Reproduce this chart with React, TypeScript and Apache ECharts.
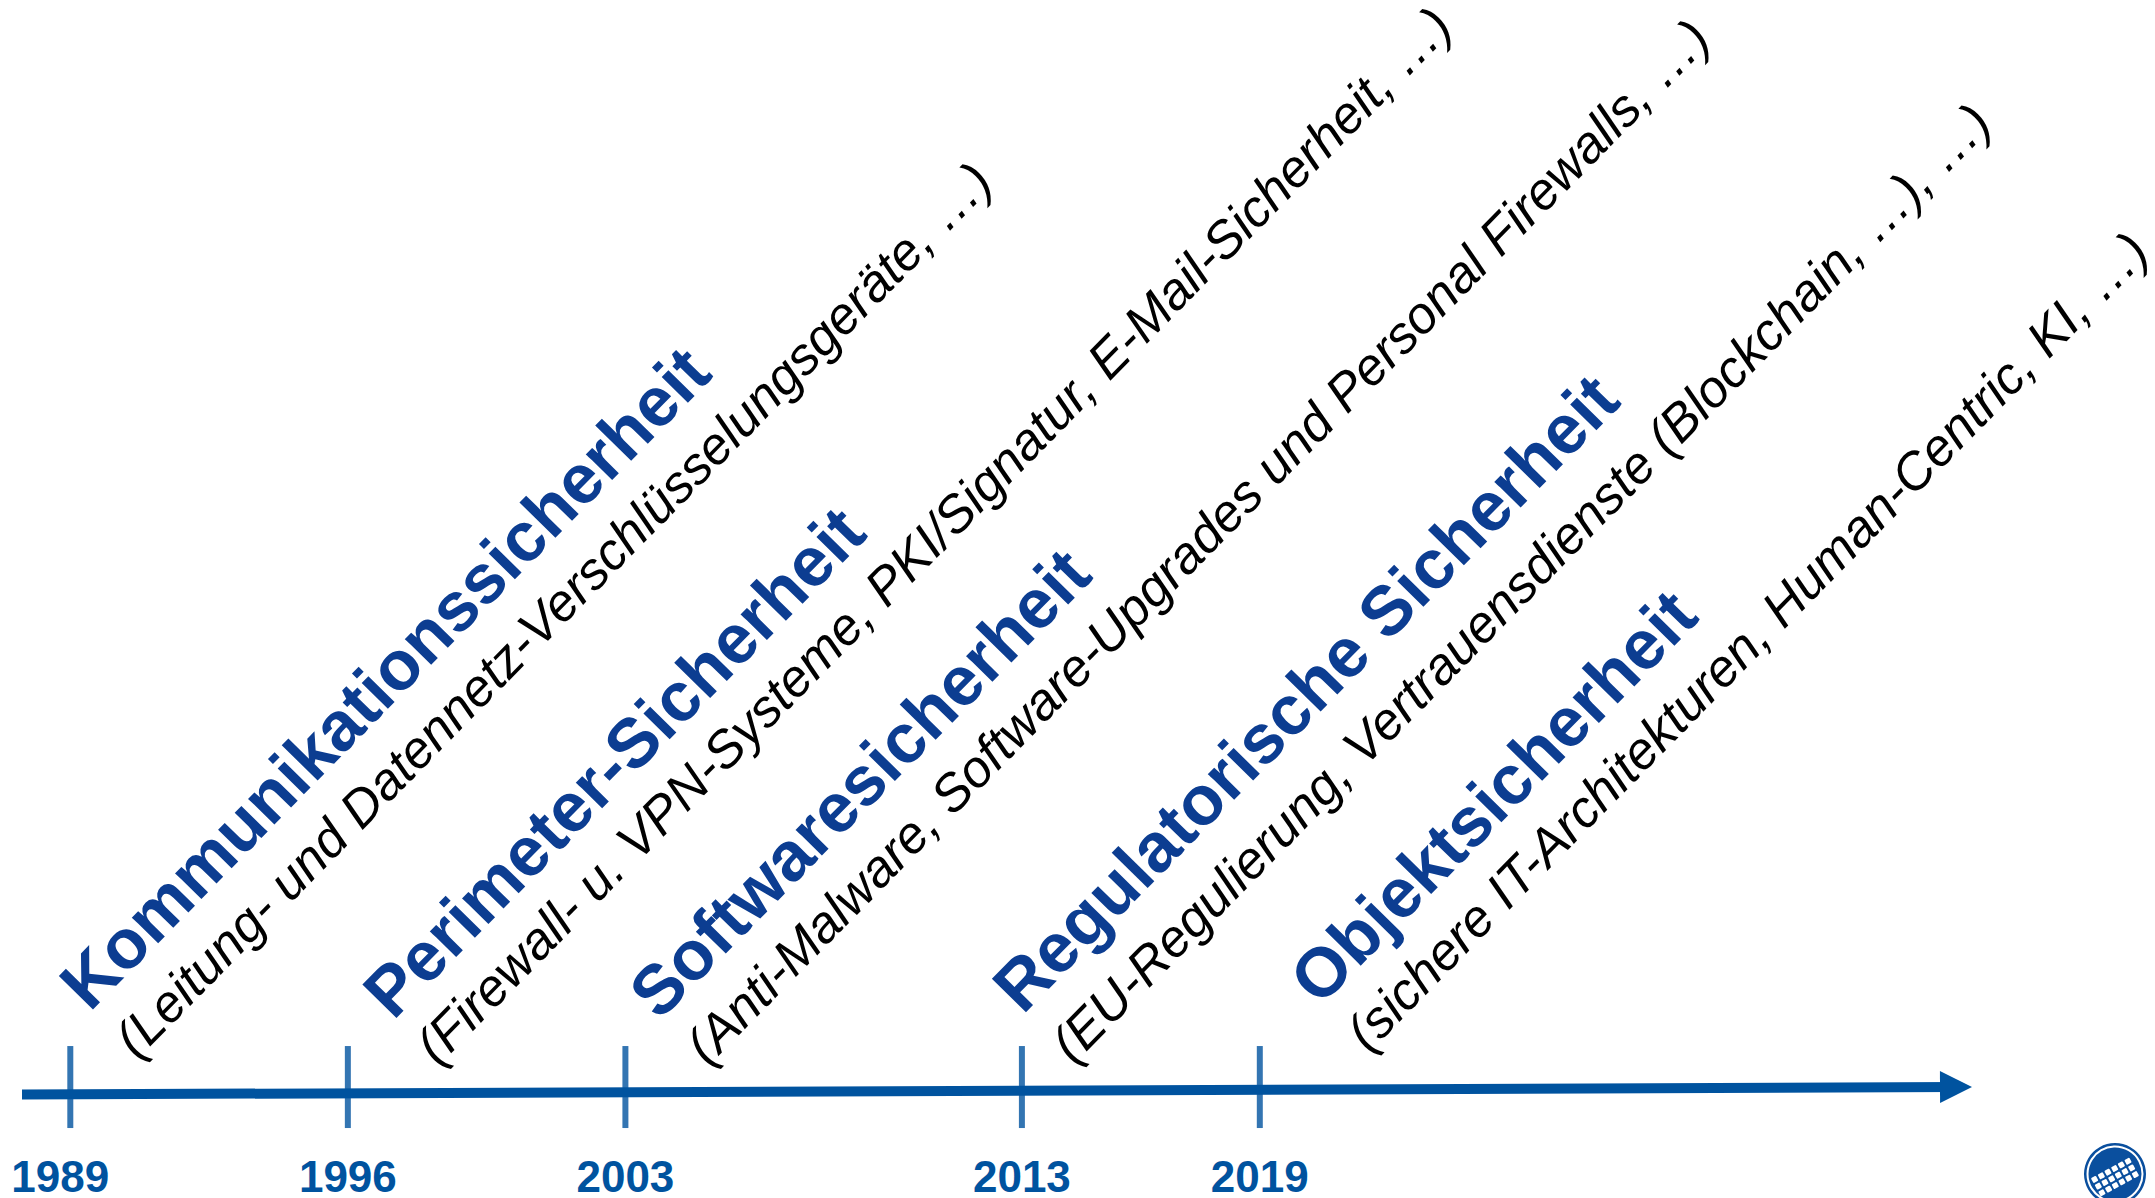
import React, { useEffect, useRef } from 'react';
import * as echarts from 'echarts';

// ---- data ----
const YEARS = [1989, 1996, 2003, 2013, 2019];
const HEADINGS = [
  'Kommunikationssicherheit',
  'Perimeter-Sicherheit',
  'Softwaresicherheit',
  'Regulatorische Sicherheit',
  'Objektsicherheit',
];
const DETAILS = [
  '(Leitung- und Datennetz-Verschlüsselungsgeräte, …)',
  '(Firewall- u. VPN-Systeme, PKI/Signatur, E-Mail-Sicherheit, …)',
  '(Anti-Malware, Software-Upgrades und Personal Firewalls, …)',
  '(EU-Regulierung, Vertrauensdienste (Blockchain, …), …)',
  '(sichere IT-Architekturen, Human-Centric, KI, …)',
];

// ---- layout ----
const W = 2155;
const H = 1198;
const PX_FIRST = 70.3;
const PX_PER_YEAR = 39.65;
const X_MIN = YEARS[0] - PX_FIRST / PX_PER_YEAR;
const X_MAX = X_MIN + W / PX_PER_YEAR;
const GRID_BOTTOM = 88;
const PLOT_H = H - GRID_BOTTOM;
const pxToYear = (px: number) => X_MIN + px / PX_PER_YEAR;
const LINE_START = { x: 22, y: 1096.5 };
const LINE_END = { x: 1956, y: 1089 };
const TICK_Y = 1089;
const HEAD_POS = [
  [72.7, 996],
  [376, 1004.5],
  [642, 1004.9],
  [1005.5, 998.7],
  [1302.5, 990.9],
];
const SUB_POS = [
  [124, 1047.6],
  [425, 1054.3],
  [695, 1054.3],
  [1060.5, 1052.6],
  [1355.5, 1040.9],
];
const ANGLE = (45.6 * Math.PI) / 180;
const AXIS_BLUE = '#00539F';
const HEAD_BLUE = '#0C3D91';
const FONT = '"Liberation Sans", Arial, sans-serif';

function buildLogo() {
  const squares: any[] = [];
  for (let r = 0; r < 3; r++) {
    for (let c = 0; c < 6; c++) {
      squares.push({
        type: 'rect',
        shape: { x: (c - 2.5) * 7.6 - 2.8, y: (r - 1) * 7.6 - 2.8, width: 5.6, height: 5.6, r: 1 },
        style: { fill: '#ffffff' },
      });
    }
  }
  return {
    type: 'group',
    x: 2115,
    y: 1174,
    silent: true,
    children: [
      { type: 'circle', shape: { cx: 0, cy: 0, r: 31 }, style: { fill: '#0A4F9E' } },
      { type: 'circle', shape: { cx: 0, cy: 0, r: 27.5 }, style: { fill: 'none', stroke: '#ffffff', lineWidth: 2 } },
      { type: 'group', x: 0, y: 3, rotation: 0.5, children: squares },
    ],
  };
}

const labelRich = {
  fontSize: 44,
  fontWeight: 'bold' as const,
  fontFamily: FONT,
  color: AXIS_BLUE,
  lineHeight: 36,
};

export default function App() {
  const ref = useRef<HTMLDivElement>(null);
  useEffect(() => {
    if (!ref.current) return;
    const chart = echarts.init(ref.current, undefined, { renderer: 'svg' });
    const texts: any[] = [];
    HEADINGS.forEach((h, i) => {
      texts.push({
        type: 'text',
        x: HEAD_POS[i][0],
        y: HEAD_POS[i][1],
        rotation: ANGLE,
        silent: true,
        style: {
          text: h,
          fill: HEAD_BLUE,
          fontSize: 69.5,
          fontWeight: 'bold',
          fontFamily: FONT,
          align: 'left',
          verticalAlign: 'middle',
          textAlign: 'left',
          textVerticalAlign: 'middle',
        },
      });
      texts.push({
        type: 'text',
        x: SUB_POS[i][0],
        y: SUB_POS[i][1],
        rotation: ANGLE,
        silent: true,
        style: {
          text: DETAILS[i],
          fill: '#000000',
          fontSize: 52,
          fontStyle: 'italic',
          fontFamily: FONT,
          align: 'left',
          verticalAlign: 'middle',
          textAlign: 'left',
          textVerticalAlign: 'middle',
        },
      });
    });
    chart.setOption({
      animation: false,
      backgroundColor: '#ffffff',
      grid: { left: 0, right: 0, top: 0, bottom: GRID_BOTTOM },
      xAxis: {
        type: 'value',
        min: X_MIN,
        max: X_MAX,
        axisLine: { show: false },
        axisTick: { show: false },
        splitLine: { show: false },
        axisLabel: {
          customValues: YEARS,
          formatter: (v: number) => (v === YEARS[0] ? `{first|${v}}` : `{base|${v}}`),
          margin: 50,
          fontSize: 44,
          fontWeight: 'bold',
          fontFamily: FONT,
          color: AXIS_BLUE,
          lineHeight: 36,
          rich: {
            base: labelRich,
            first: { ...labelRich, padding: [0, 20, 0, 0] },
          },
        },
      },
      yAxis: {
        type: 'value',
        min: 0,
        max: PLOT_H,
        inverse: true,
        show: false,
        splitLine: { show: false },
      },
      series: [
        {
          type: 'scatter',
          data: YEARS.map((y) => [y, TICK_Y]),
          symbol: 'rect',
          symbolSize: [6, 82],
          itemStyle: { color: AXIS_BLUE },
          clip: false,
          silent: true,
          z: 3,
          markLine: {
            silent: true,
            symbol: ['none', 'triangle'],
            symbolSize: [32, 32],
            label: { show: false },
            lineStyle: { color: AXIS_BLUE, width: 10, type: 'solid' },
            itemStyle: { color: AXIS_BLUE },
            emphasis: { disabled: true },
            data: [
              [
                { coord: [pxToYear(LINE_START.x), LINE_START.y] },
                { coord: [pxToYear(LINE_END.x), LINE_END.y] },
              ],
            ],
          },
        },
      ],
      graphic: { elements: [...texts, buildLogo()] },
    });
    return () => chart.dispose();
  }, []);
  return (
    <div
      ref={ref}
      style={{ position: 'fixed', left: 0, top: 0, width: W, height: H, background: '#fff' }}
    />
  );
}
